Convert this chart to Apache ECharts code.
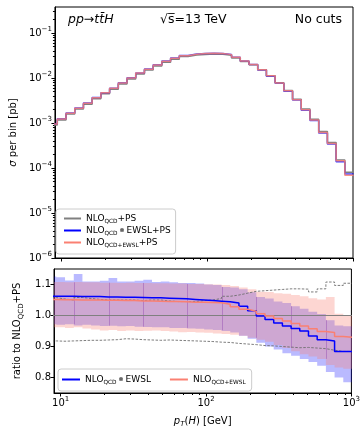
<!DOCTYPE html>
<html>
<head>
<meta charset="utf-8">
<title>ttH pT(H)</title>
<script src="https://cdn.jsdelivr.net/npm/echarts@6.0.0/dist/echarts.min.js"></script>
<style>
  html, body { margin: 0; padding: 0; background: #fff; }
  #chart { width: 363px; height: 429px; }
</style>
</head>
<body>
<div id="chart"></div>
<script>
// bin edges in pT(H) [GeV], first bin starts just left of the plotted range
const edges = [8.14, 9.34, 10.72, 12.31, 14.12, 16.20, 18.60, 21.35, 24.50, 28.11, 32.26, 37.03,
  42.50, 48.77, 55.97, 64.24, 73.72, 84.61, 97.07, 111.4, 127.9, 146.7, 168.4, 193.3, 221.8,
  254.5, 292.1, 335.2, 384.7, 441.5, 506.7, 581.5, 667.4, 765.9, 879.0, 1008.6]

// sigma per bin [pb]
const sigmaQCD = [9.1e-4, 1.17e-3, 1.58e-3, 2.04e-3, 2.63e-3, 3.47e-3, 4.47e-3, 5.62e-3, 7.41e-3,
  9.55e-3, 1.23e-2, 1.51e-2, 1.86e-2, 2.26e-2, 2.63e-2, 3.02e-2, 3.24e-2, 3.36e-2, 3.42e-2, 3.38e-2,
  3.2e-2, 2.8e-2, 2.33e-2, 1.97e-2, 1.53e-2, 1.12e-2, 7.9e-3, 5.3e-3, 3.4e-3, 2.04e-3, 1.22e-3,
  6.5e-4, 3.7e-4, 1.5e-4, 8.1e-5]
const sigmaEW = [9.6e-4, 1.24e-3, 1.67e-3, 2.16e-3, 2.79e-3, 3.68e-3, 4.73e-3, 5.95e-3, 7.84e-3,
  1.01e-2, 1.30e-2, 1.60e-2, 1.97e-2, 2.39e-2, 2.78e-2, 3.18e-2, 3.41e-2, 3.53e-2, 3.58e-2, 3.53e-2,
  3.33e-2, 2.90e-2, 2.39e-2, 1.99e-2, 1.52e-2, 1.10e-2, 7.7e-3, 5.1e-3, 3.25e-3, 1.93e-3, 1.14e-3,
  6.0e-4, 3.4e-4, 1.38e-4, 7.4e-5]
const sigmaMix = [9.5e-4, 1.23e-3, 1.66e-3, 2.14e-3, 2.76e-3, 3.64e-3, 4.69e-3, 5.90e-3, 7.77e-3,
  1.00e-2, 1.29e-2, 1.58e-2, 1.95e-2, 2.37e-2, 2.75e-2, 3.15e-2, 3.38e-2, 3.50e-2, 3.56e-2, 3.52e-2,
  3.32e-2, 2.89e-2, 2.39e-2, 2.00e-2, 1.54e-2, 1.12e-2, 7.8e-3, 5.2e-3, 3.3e-3, 1.97e-3, 1.17e-3,
  6.2e-4, 3.5e-4, 1.45e-4, 6.9e-5]

// ratios to NLO_QCD+PS
const ratioEW = [1.062, 1.062, 1.062, 1.061, 1.061, 1.061, 1.060, 1.060, 1.059, 1.059, 1.058, 1.057,
  1.057, 1.056, 1.055, 1.054, 1.052, 1.050, 1.048, 1.046, 1.044, 1.040, 1.030, 1.015, 0.998, 0.987,
  0.976, 0.966, 0.958, 0.950, 0.934, 0.922, 0.918, 0.884, 0.884]
const ratioMix = [1.052, 1.051, 1.051, 1.050, 1.050, 1.050, 1.049, 1.049, 1.048, 1.048, 1.047, 1.047,
  1.046, 1.045, 1.045, 1.044, 1.043, 1.043, 1.042, 1.041, 1.036, 1.028, 1.020, 1.014, 1.006, 0.998,
  0.990, 0.982, 0.974, 0.966, 0.957, 0.948, 0.945, 0.932, 0.930]
const qcdUp = [1.058, 1.053, 1.050, 1.058, 1.055, 1.052, 1.050, 1.050, 1.050, 1.050, 1.048, 1.050,
  1.050, 1.047, 1.045, 1.045, 1.045, 1.048, 1.050, 1.055, 1.062, 1.066, 1.072, 1.078, 1.080, 1.082,
  1.084, 1.086, 1.086, 1.085, 1.076, 1.086, 1.108, 1.097, 1.104]
const qcdLo = [0.918, 0.917, 0.918, 0.919, 0.920, 0.920, 0.921, 0.922, 0.925, 0.924, 0.922, 0.921,
  0.920, 0.921, 0.920, 0.919, 0.918, 0.917, 0.916, 0.914, 0.913, 0.910, 0.908, 0.906, 0.903, 0.902,
  0.900, 0.898, 0.896, 0.897, 0.895, 0.893, 0.888, 0.884, 0.884]
const bandEwUp = [1.126, 1.123, 1.113, 1.134, 1.110, 1.110, 1.112, 1.121, 1.110, 1.110, 1.112, 1.115,
  1.108, 1.110, 1.107, 1.105, 1.105, 1.103, 1.100, 1.098, 1.092, 1.090, 1.085, 1.075, 1.060, 1.055,
  1.045, 1.040, 1.030, 1.022, 1.012, 1.005, 0.985, 0.968, 0.965]
const bandEwLo = [0.972, 0.970, 0.972, 0.968, 0.970, 0.968, 0.966, 0.967, 0.965, 0.966, 0.964, 0.963,
  0.962, 0.962, 0.960, 0.960, 0.958, 0.957, 0.955, 0.953, 0.950, 0.945, 0.935, 0.925, 0.912, 0.900,
  0.890, 0.878, 0.870, 0.860, 0.850, 0.838, 0.818, 0.800, 0.785]
const bandMixUp = [1.108, 1.108, 1.107, 1.108, 1.107, 1.107, 1.106, 1.106, 1.105, 1.106, 1.105, 1.105,
  1.104, 1.104, 1.103, 1.103, 1.102, 1.102, 1.101, 1.100, 1.098, 1.095, 1.090, 1.085, 1.077, 1.076,
  1.072, 1.070, 1.066, 1.062, 1.056, 1.052, 1.060, 1.006, 1.000]
const bandMixLo = [0.962, 0.962, 0.960, 0.962, 0.958, 0.955, 0.952, 0.953, 0.950, 0.952, 0.950, 0.951,
  0.952, 0.950, 0.948, 0.946, 0.947, 0.945, 0.944, 0.942, 0.940, 0.938, 0.935, 0.928, 0.922, 0.915,
  0.905, 0.895, 0.885, 0.875, 0.868, 0.860, 0.840, 0.832, 0.828]
// edges where the band overlap shows a darker seam
const seamEdges = [3, 7, 11, 16, 20, 24, 28, 32]

// tick values
const xMajor = [10, 100, 1000]
const xMinor = [20, 30, 40, 50, 60, 70, 80, 90, 200, 300, 400, 500, 600, 700, 800, 900]
const yMajor = [1e-6, 1e-5, 1e-4, 1e-3, 1e-2, 1e-1]
const yMinor = []
yMajor.forEach(d => { for (let m = 2; m <= 9; m++) if (m * d < 0.38) yMinor.push(m * d) })
const rTicks = [0.8, 0.9, 1.0, 1.1]

const FONT = 'DejaVu Sans'
const BLUE = '#0000ff'
const SALMON = '#fa8072'
const GRAY = '#808080'

const legendText = {
  qcdPS: '{m|NLO}{s|QCD}{m|+PS}',
  ewPS: '{m|NLO}{s|QCD}{o|⊗}{m|EWSL+PS}',
  mixPS: '{m|NLO}{s|QCD+EWSL}{m|+PS}',
  ratioEW: '{m|NLO}{s|QCD}{o|⊗}{m|EWSL}',
  ratioMix: '{m|NLO}{s|QCD+EWSL}'
}
// legend text
const legRich = {
  m: { fontSize: 9, fontFamily: FONT, color: '#000' },
  s: { fontSize: 5.8, fontFamily: FONT, color: '#000', padding: [5, 0, 0, 0] },
  o: { fontSize: 6, fontFamily: FONT, color: '#000', padding: [0, 2, 0, 2] }
}
// axis titles
const richTxt = {
  m: { fontSize: 10, fontFamily: FONT, color: '#000' },
  i: { fontSize: 10, fontFamily: FONT, fontStyle: 'italic', color: '#000' },
  s: { fontSize: 7, fontFamily: FONT, color: '#000', padding: [6, 0, 0, 0] },
  si: { fontSize: 7, fontFamily: FONT, fontStyle: 'italic', color: '#000', padding: [6, 0, 0, 0] }
}
const powRich = {
  b: { fontSize: 10, fontFamily: FONT, color: '#000' },
  p: { fontSize: 7, fontFamily: FONT, color: '#000', padding: [0, 0, 8, 0] }
}

function pow10Label (v) {
  const p = Math.round(Math.log10(v))
  return '{b|10}{p|' + (p < 0 ? '\u2212' + (-p) : p) + '}'
}

// histogram as step line: one point per left edge, plus the closing edge
function steps (vals) {
  return edges.map((e, i) => [e, vals[Math.min(i, vals.length - 1)]])
}

function bandRender (lo, hi, color) {
  return function (params, api) {
    const pts = []
    for (let i = 0; i < lo.length; i++) {
      pts.push(api.coord([edges[i], hi[i]]), api.coord([edges[i + 1], hi[i]]))
    }
    for (let i = lo.length - 1; i >= 0; i--) {
      pts.push(api.coord([edges[i + 1], lo[i]]), api.coord([edges[i], lo[i]]))
    }
    return { type: 'polygon', shape: { points: pts }, style: { fill: color } }
  }
}

function seamRender (params, api) {
  const children = seamEdges.map(j => {
    const top = Math.min(bandEwUp[j], bandMixUp[j], bandEwUp[j - 1], bandMixUp[j - 1])
    const bot = Math.max(bandEwLo[j], bandMixLo[j], bandEwLo[j - 1], bandMixLo[j - 1])
    const a = api.coord([edges[j], top])
    const b = api.coord([edges[j], bot])
    const x = Math.round(a[0]) + 0.5
    return { type: 'line', shape: { x1: x, y1: a[1], x2: x, y2: b[1] },
      style: { stroke: 'rgba(130,50,170,0.35)', lineWidth: 1 } }
  })
  return { type: 'group', children }
}

const axisBlack = { show: true, onZero: false, lineStyle: { color: '#000', width: 1 } }
const tickStyle = { color: '#000', width: 1 }

function xAxisFor (grid, minor, labels) {
  return {
    type: 'log', gridIndex: grid, min: 9, max: 1000, position: 'bottom',
    axisLine: minor ? { show: false } : axisBlack,
    splitLine: { show: false },
    axisTick: { show: true, customValues: minor ? xMinor : xMajor, length: minor ? 2 : 3.5, lineStyle: tickStyle },
    axisLabel: labels
      ? { show: true, customValues: xMajor, formatter: pow10Label, rich: powRich, margin: 3 }
      : { show: false }
  }
}

const chart = echarts.init(document.getElementById('chart'))

chart.setOption({
  animation: false,
  backgroundColor: '#fff',
  textStyle: { fontFamily: FONT },
  grid: [
    { left: 54, right: 10, top: 7, height: 251, show: true, borderColor: '#000', borderWidth: 1, backgroundColor: 'transparent' },
    { left: 54, right: 10, top: 269, height: 126, show: true, borderColor: '#000', borderWidth: 1, backgroundColor: 'transparent' }
  ],
  xAxis: [
    xAxisFor(0, false, false),
    xAxisFor(0, true, false),
    Object.assign(xAxisFor(1, false, true), {
      name: '{i|p}{si|T}{m|(}{i|H}{m|) [GeV]}',
      nameLocation: 'middle', nameGap: 22,
      nameTextStyle: { rich: richTxt }
    }),
    xAxisFor(1, true, false)
  ],
  yAxis: [
    {
      type: 'log', gridIndex: 0, min: 1e-6, max: 0.38, position: 'left',
      axisLine: axisBlack, splitLine: { show: false },
      axisTick: { show: true, customValues: yMajor, length: 3.5, lineStyle: tickStyle },
      axisLabel: { show: true, customValues: yMajor, formatter: pow10Label, rich: powRich, margin: 3 },
      name: '{i|σ}{m| per bin [pb]}', nameLocation: 'middle', nameGap: 36,
      nameTextStyle: { rich: richTxt }
    },
    {
      type: 'log', gridIndex: 0, min: 1e-6, max: 0.38, position: 'left',
      axisLine: { show: false }, splitLine: { show: false },
      axisTick: { show: true, customValues: yMinor, length: 2, lineStyle: tickStyle },
      axisLabel: { show: false }
    },
    {
      type: 'value', gridIndex: 1, min: 0.75, max: 1.15, position: 'left',
      axisLine: axisBlack, splitLine: { show: false },
      axisTick: { show: true, customValues: rTicks, length: 3.5, lineStyle: tickStyle },
      axisLabel: { show: true, customValues: rTicks, formatter: v => v.toFixed(1), fontSize: 10, color: '#000', margin: 3 },
      name: '{m|ratio to NLO}{s|QCD}{m|+PS}', nameLocation: 'middle', nameGap: 28,
      nameTextStyle: { rich: richTxt }
    }
  ],
  legend: [
    {
      data: ['qcdPS', 'ewPS', 'mixPS'], orient: 'vertical', left: 56, top: 209,
      icon: 'rect', itemWidth: 17, itemHeight: 2, itemGap: 2,
      padding: [5, 5, 6, 8], backgroundColor: 'rgba(255,255,255,0.8)',
      borderColor: '#ccc', borderWidth: 1, borderRadius: 3,
      formatter: n => legendText[n], textStyle: { rich: legRich }
    },
    {
      data: ['ratioEW', 'ratioMix'], orient: 'horizontal', left: 58, top: 369,
      icon: 'rect', itemWidth: 18, itemHeight: 2, itemGap: 19,
      padding: [6, 6, 6, 4], backgroundColor: 'rgba(255,255,255,0.8)',
      borderColor: '#ccc', borderWidth: 1, borderRadius: 3,
      formatter: n => legendText[n], textStyle: { rich: legRich }
    }
  ],
  graphic: [
    {
      type: 'text', x: 68, y: 20,
      style: {
        text: '{i|pp}{n|\u2192}{i|tt\u0304H}', verticalAlign: 'middle', align: 'left',
        rich: {
          i: { fontSize: 12.5, fontFamily: FONT, fontStyle: 'italic', fill: '#000' },
          n: { fontSize: 12.5, fontFamily: FONT, fill: '#000' }
        }
      }
    },
    {
      type: 'text', x: 160, y: 20,
      style: { text: '\u221As\u0305=13 TeV', font: '12.5px "DejaVu Sans"', fill: '#000', verticalAlign: 'middle', align: 'left' }
    },
    {
      type: 'text', x: 342, y: 20,
      style: { text: 'No cuts', font: '12.5px "DejaVu Sans"', fill: '#000', verticalAlign: 'middle', align: 'right' }
    }
  ],
  series: [
    // top panel
    { type: 'line', name: 'qcdPS', xAxisIndex: 0, yAxisIndex: 0, data: steps(sigmaQCD), step: 'end',
      showSymbol: false, lineStyle: { color: GRAY, width: 1.5 }, itemStyle: { color: GRAY } },
    { type: 'line', name: 'ewPS', xAxisIndex: 0, yAxisIndex: 0, data: steps(sigmaEW), step: 'end',
      showSymbol: false, lineStyle: { color: BLUE, width: 1.5, opacity: 0.75 }, itemStyle: { color: BLUE } },
    { type: 'line', name: 'mixPS', xAxisIndex: 0, yAxisIndex: 0, data: steps(sigmaMix), step: 'end',
      showSymbol: false, lineStyle: { color: SALMON, width: 1.5, opacity: 0.85 }, itemStyle: { color: SALMON } },
    // ratio panel: bands
    { type: 'custom', name: 'bandEW', xAxisIndex: 2, yAxisIndex: 2, clip: true, silent: true, z: 1,
      data: [[edges[0], 1]], renderItem: bandRender(bandEwLo, bandEwUp, 'rgba(0,0,255,0.27)') },
    { type: 'custom', name: 'bandMix', xAxisIndex: 2, yAxisIndex: 2, clip: true, silent: true, z: 1,
      data: [[edges[0], 1]], renderItem: bandRender(bandMixLo, bandMixUp, 'rgba(250,128,114,0.32)') },
    { type: 'custom', name: 'seams', xAxisIndex: 2, yAxisIndex: 2, clip: true, silent: true, z: 1,
      data: [[edges[0], 1]], renderItem: seamRender },
    // reference line and its scale band
    { type: 'line', name: 'ref', xAxisIndex: 2, yAxisIndex: 2, data: [[edges[0], 1], [edges[edges.length - 1], 1]],
      showSymbol: false, lineStyle: { color: GRAY, width: 1.2 }, z: 2 },
    { type: 'line', name: 'qcdUp', xAxisIndex: 2, yAxisIndex: 2, data: steps(qcdUp), step: 'end',
      showSymbol: false, lineStyle: { color: '#6e6e6e', width: 0.9, type: [2.5, 1.5] }, z: 2 },
    { type: 'line', name: 'qcdLo', xAxisIndex: 2, yAxisIndex: 2, data: steps(qcdLo), step: 'end',
      showSymbol: false, lineStyle: { color: '#6e6e6e', width: 0.9, type: [2.5, 1.5] }, z: 2 },
    { type: 'line', name: 'ratioEW', xAxisIndex: 2, yAxisIndex: 2, data: steps(ratioEW), step: 'end',
      showSymbol: false, lineStyle: { color: BLUE, width: 1.5 }, itemStyle: { color: BLUE }, z: 3 },
    { type: 'line', name: 'ratioMix', xAxisIndex: 2, yAxisIndex: 2, data: steps(ratioMix), step: 'end',
      showSymbol: false, lineStyle: { color: SALMON, width: 1.5 }, itemStyle: { color: SALMON }, z: 3 }
  ]
})
</script>
</body>
</html>
